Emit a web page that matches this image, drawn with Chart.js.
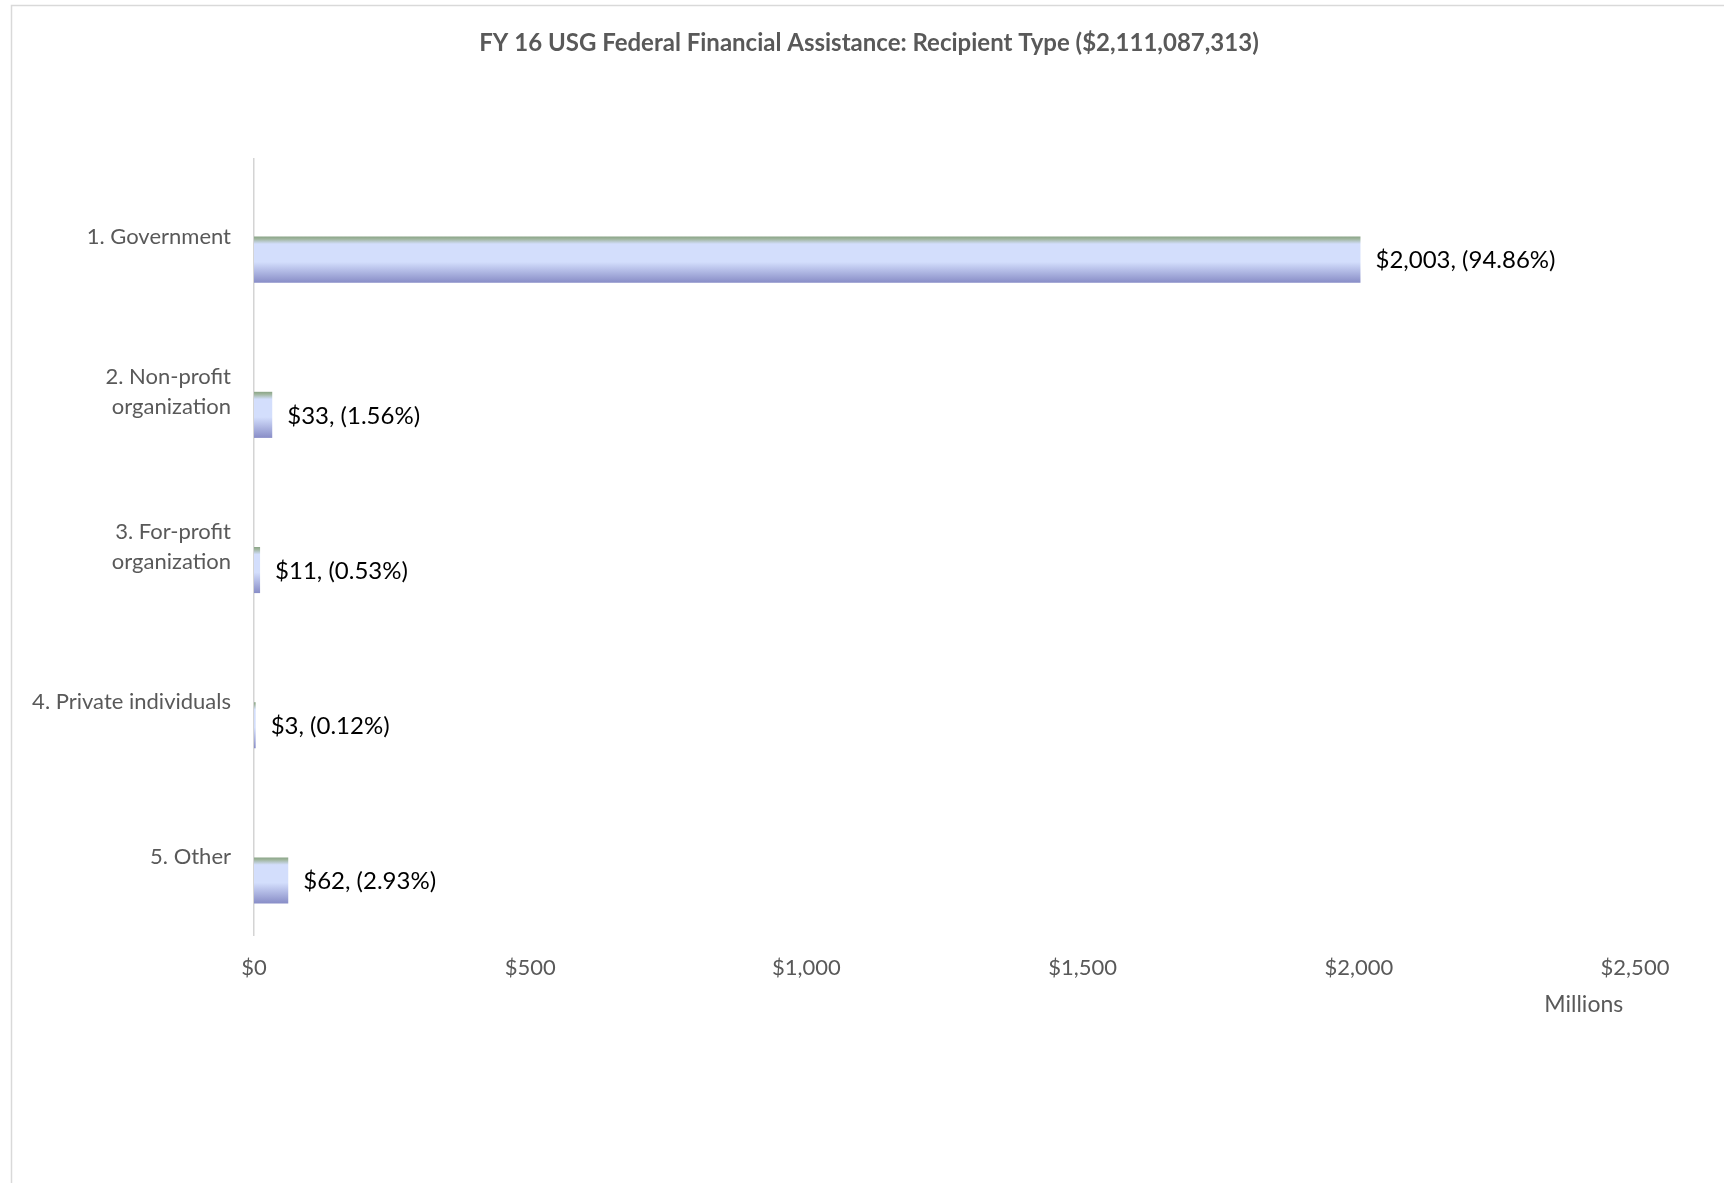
<!DOCTYPE html>
<html>
<head>
<meta charset="utf-8">
<script src="https://cdn.jsdelivr.net/npm/chart.js@4"></script>
<style>
  html, body { margin: 0; padding: 0; background: #fff; }
  #wrap { width: 1724px; height: 1183px; position: relative; }
</style>
</head>
<body>
<div id="wrap"><canvas id="recipientChart"></canvas></div>
<script>
// данные с картинки (миллионы $)
const categories = [
  '1. Government',
  ['2. Non-profit', 'organization'],
  ['3. For-profit', 'organization'],
  '4. Private individuals',
  '5. Other'
];
const amounts = [2003, 33, 11, 3, 62];
const percents = [94.86, 1.56, 0.53, 0.12, 2.93];
const emptySeries = [null, null, null, null, null];
const xTicks = [0, 500, 1000, 1500, 2000, 2500];

const chartTitle = 'FY 16 USG Federal Financial Assistance: Recipient Type ($2,111,087,313)';
const FONT = 'Lato, "Open Sans", sans-serif';

// рамка и заголовок
const framePlugin = {
  id: 'frame',
  beforeDraw(chart) {
    const c = chart.ctx;
    c.save();
    c.strokeStyle = '#d9d9d9';
    c.lineWidth = 1.5;
    c.strokeRect(11.5, 5.5, 1900, 1400);
    c.fillStyle = '#595959';
    c.font = 'bold 24px ' + FONT;
    c.textAlign = 'center';
    c.textBaseline = 'middle';
    c.fillText(chartTitle, 869, 43);
    c.restore();
  }
};

// градиент на каждом столбике
const gradientPlugin = {
  id: 'barGradient',
  beforeDatasetsDraw(chart) {
    const c = chart.ctx;
    chart.getDatasetMeta(1).data.forEach(function (bar) {
      const top = bar.y - bar.height / 2;
      const g = c.createLinearGradient(0, top, 0, top + bar.height);
      g.addColorStop(0, '#8aa487');
      g.addColorStop(0.05, '#9fb59d');
      g.addColorStop(0.16, '#d3defc');
      g.addColorStop(0.55, '#d3defc');
      g.addColorStop(1, '#888dc7');
      bar.options = Object.assign({}, bar.options, { backgroundColor: g });
    });
  }
};

// подписи значений справа от столбиков
const valueLabels = {
  id: 'valueLabels',
  afterDatasetsDraw(chart) {
    const c = chart.ctx;
    c.save();
    c.fillStyle = '#000';
    c.font = '24px ' + FONT;
    c.textAlign = 'left';
    c.textBaseline = 'middle';
    chart.getDatasetMeta(1).data.forEach(function (bar, i) {
      const text = '$' + amounts[i].toLocaleString('en-US') + ', (' + percents[i].toFixed(2) + '%)';
      c.fillText(text, bar.x + 15, bar.y + 1);
    });
    c.restore();
  }
};

new Chart(document.getElementById('recipientChart'), {
  type: 'bar',
  data: {
    labels: categories,
    datasets: [
      { label: 'blank', data: emptySeries },
      { label: 'Amount', data: amounts, backgroundColor: '#d3defc', borderWidth: 0 }
    ]
  },
  options: {
    indexAxis: 'y',
    responsive: true,
    maintainAspectRatio: false,
    animation: false,
    categoryPercentage: 0.594,
    barPercentage: 1,
    layout: { padding: { left: 0, top: 159, right: 89, bottom: 165 } },
    plugins: {
      legend: { display: false },
      title: { display: false },
      tooltip: { enabled: false }
    },
    scales: {
      y: {
        grid: { display: false, drawTicks: false },
        border: { display: true, color: '#d4d4d4', width: 1.5 },
        ticks: {
          color: '#595959',
          padding: 23,
          font: { family: FONT, size: 22, lineHeight: 1.35 }
        },
        afterFit(scale) { scale.width = 254; }
      },
      x: {
        min: 0,
        max: 2500,
        grid: { display: false, drawTicks: false },
        border: { display: false },
        afterBuildTicks(scale) { scale.ticks = xTicks.map(v => ({ value: v })); },
        ticks: {
          color: '#595959',
          padding: 20,
          font: { family: FONT, size: 22 },
          callback: function (value) { return '$' + value.toLocaleString('en-US'); }
        },
        title: {
          display: true,
          text: 'Millions  ',
          align: 'end',
          color: '#595959',
          padding: { top: 0, bottom: 0 },
          font: { family: FONT, size: 23, lineHeight: 1.2 }
        },
        afterFit(scale) { scale.height = 83; }
      }
    }
  },
  plugins: [framePlugin, gradientPlugin, valueLabels]
});
</script>
</body>
</html>
